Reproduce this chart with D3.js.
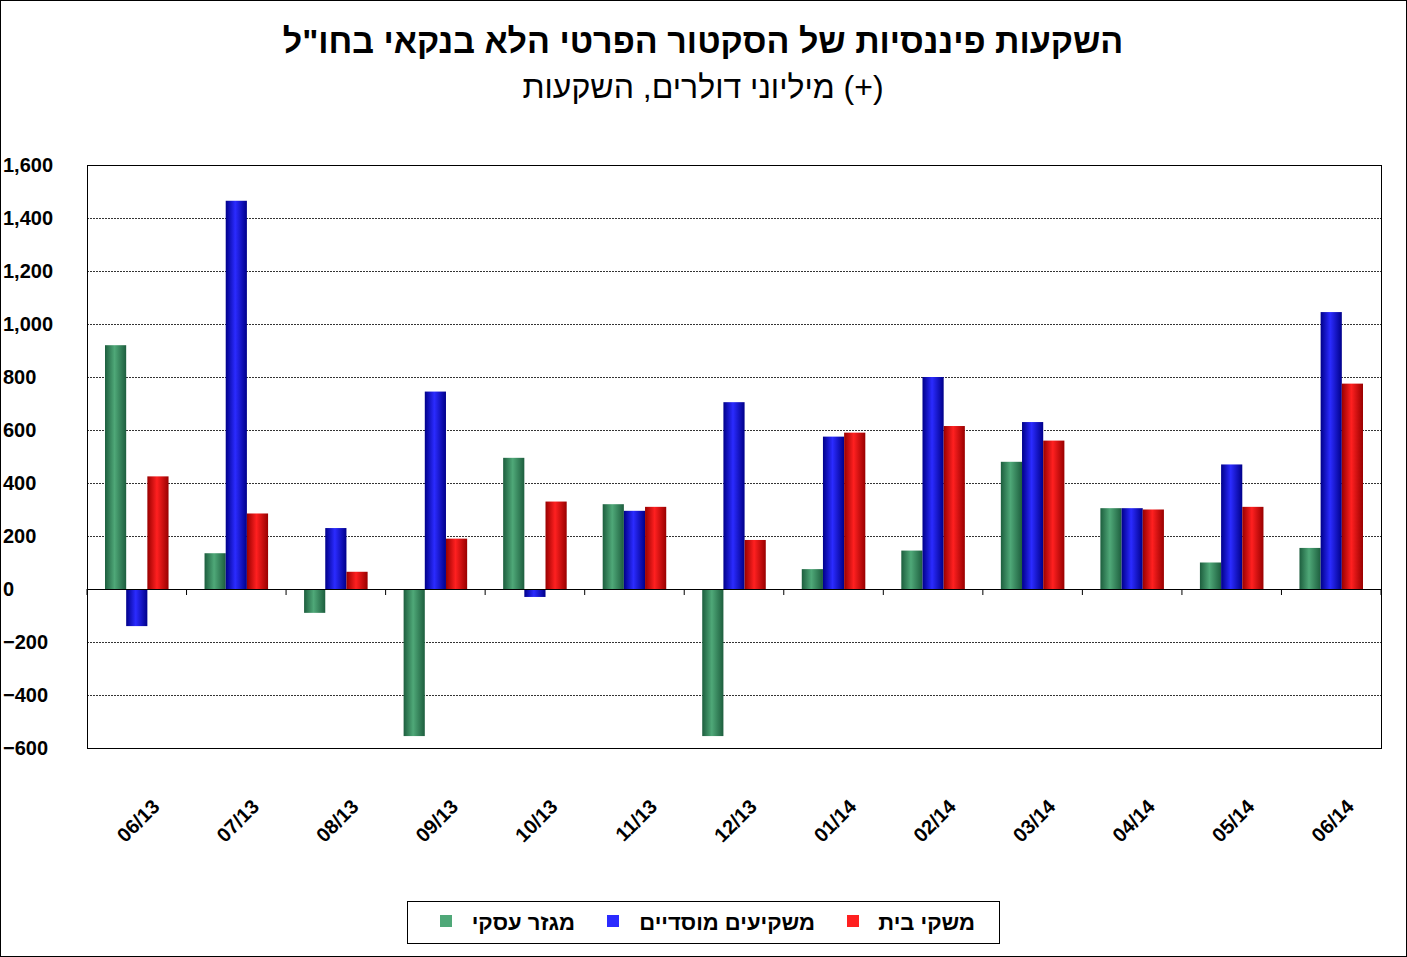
<!DOCTYPE html>
<html><head><meta charset="utf-8">
<script src="https://cdn.jsdelivr.net/npm/d3@7"></script>
<style>body{margin:0;background:#fff}svg{font-family:Arial,"Liberation Sans",sans-serif}</style>
</head><body>
<svg id="c" width="1407" height="957"></svg>
<script>
const categories=["06/13","07/13","08/13","09/13","10/13","11/13","12/13","01/14","02/14","03/14","04/14","05/14","06/14"];
const seriesNames=["מגזר עסקי","משקיעים מוסדיים","משקי בית"];
const business=[920,135,-90,-555,495,320,-555,75,145,480,305,100,155];
const institutional=[-140,1465,230,745,-30,295,705,575,800,630,305,470,1045];
const households=[425,285,65,190,330,310,185,590,615,560,300,310,775];
const yTicks=[-600,-400,-200,0,200,400,600,800,1000,1200,1400,1600];
const colors=[["#1d5e3e","#4fa878","#1d5e3e"],["#00008a","#2b2bff","#00008a"],["#990000","#ff2020","#990000"]];
const series=[business,institutional,households];

const svg=d3.select("#c");
svg.append("rect").attr("x",0.5).attr("y",0.5).attr("width",1406).attr("height",956).attr("fill","#fff").attr("stroke","#000");
const defs=svg.append("defs");
colors.forEach((c,i)=>{const g=defs.append("linearGradient").attr("id","g"+i).attr("x1",0).attr("x2",1).attr("y1",0).attr("y2",0);
g.append("stop").attr("offset","0%").attr("stop-color",c[0]);g.append("stop").attr("offset","45%").attr("stop-color",c[1]);g.append("stop").attr("offset","100%").attr("stop-color",c[2]);});

const L=87,R=1381,T=165,B=748;
const y=d3.scaleLinear().domain([-600,1600]).range([B,T]);
const x=d3.scaleBand().domain(categories).range([L,R]).paddingInner(0).paddingOuter(0);
const xi=d3.scaleBand().domain([0,1,2]).range([18,x.bandwidth()-18]).padding(0);

svg.append("g").selectAll("line").data(yTicks).join("line").attr("x1",L).attr("x2",R)
 .attr("y1",d=>Math.round(y(d))+0.5).attr("y2",d=>Math.round(y(d))+0.5).attr("stroke","#000").attr("stroke-dasharray",d=>(d===0||d===1600||d===-600)?null:"2,1").attr("stroke-width",0.8);
svg.append("rect").attr("x",L+0.5).attr("y",T+0.5).attr("width",R-L).attr("height",B-T).attr("fill","none").attr("stroke","#000");

series.forEach((s,i)=>{
 svg.append("g").selectAll("rect").data(s).join("rect")
 .attr("x",(d,j)=>x(categories[j])+xi(i)).attr("width",xi.bandwidth())
 .attr("y",d=>y(Math.max(0,d))).attr("height",d=>Math.abs(y(d)-y(0)))
 .attr("fill","url(#g"+i+")");
});
// zero line on top
svg.append("line").attr("x1",L).attr("x2",R).attr("y1",Math.round(y(0))+0.5).attr("y2",Math.round(y(0))+0.5).attr("stroke","#000");
// x ticks
svg.append("g").selectAll("line").data(d3.range(categories.length+1)).join("line")
 .attr("x1",d=>L+d*x.step()).attr("x2",d=>L+d*x.step()).attr("y1",y(0)).attr("y2",y(0)+6).attr("stroke","#000");

const yAx=svg.append("g").attr("transform",`translate(${L},0)`).call(d3.axisLeft(y).tickValues(yTicks).tickFormat(d3.format(",")).tickSize(0).tickPadding(20));
yAx.select(".domain").remove();
yAx.selectAll("text").attr("font-size",20).attr("font-weight","bold").attr("fill","#000").attr("font-family","Arial");
yAx.selectAll("text").attr("x",-22).attr("text-anchor","end");
yAx.selectAll("text").attr("transform","translate(-0,0)").attr("x",-18);
yAx.selectAll("text").each(function(){d3.select(this).attr("text-anchor","start").attr("x",-84);});

svg.append("g").selectAll("text").data(categories).join("text")
 .attr("transform",d=>`translate(${x(d)+x.bandwidth()/2+24},${808}) rotate(-45)`)
 .attr("text-anchor","end").attr("font-size",20).attr("font-weight","bold").text(d=>d);

svg.append("text").attr("x",703).attr("y",53).attr("text-anchor","middle").attr("font-size",34).attr("font-weight","bold").text('השקעות פיננסיות של הסקטור הפרטי הלא בנקאי בחו"ל');
svg.append("text").attr("x",703).attr("y",98).attr("text-anchor","middle").attr("font-size",32).text("מיליוני דולרים, השקעות (+)");

svg.append("rect").attr("x",407.5).attr("y",901.5).attr("width",592).attr("height",42).attr("fill","#fff").attr("stroke","#000");
const lx=[575,815,975];
seriesNames.forEach((n,i)=>{
 svg.append("rect").attr("x",[440,607,847][i]).attr("y",915).attr("width",12).attr("height",12).attr("fill",colors[i][1]);
 svg.append("text").attr("x",lx[i]).attr("y",930).attr("text-anchor","end").attr("font-size",22).attr("font-weight","bold").text(n);
});
</script>
</body></html>
